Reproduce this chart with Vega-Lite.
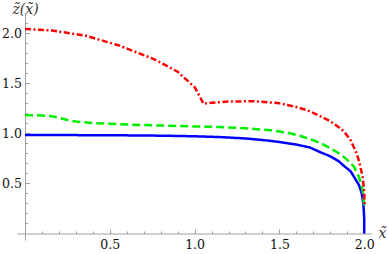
{
  "$schema": "https://vega.github.io/schema/vega-lite/v6.json",
  "width": 354,
  "height": 227,
  "autosize": "none",
  "padding": {"left": 17, "top": 13, "right": 17, "bottom": 14},
  "background": "white",
  "config": {"view": {"stroke": null}, "font": "DejaVu Serif"},
  "data": {"values": [
    {"s":"a","i":0,"x":0,"z":0.982},{"s":"a","i":1,"x":0.2,"z":0.982},{"s":"a","i":2,"x":0.4,"z":0.981},{"s":"a","i":3,"x":0.6,"z":0.979},{"s":"a","i":4,"x":0.8,"z":0.976},{"s":"a","i":5,"x":1.0,"z":0.97},{"s":"a","i":6,"x":1.15,"z":0.962},{"s":"a","i":7,"x":1.3,"z":0.948},{"s":"a","i":8,"x":1.4,"z":0.933},{"s":"a","i":9,"x":1.5,"z":0.913},{"s":"a","i":10,"x":1.6,"z":0.887},{"s":"a","i":11,"x":1.68,"z":0.858},{"s":"a","i":12,"x":1.74,"z":0.812},{"s":"a","i":13,"x":1.8,"z":0.77},{"s":"a","i":14,"x":1.85,"z":0.72},{"s":"a","i":15,"x":1.88,"z":0.675},{"s":"a","i":16,"x":1.92,"z":0.62},{"s":"a","i":17,"x":1.94,"z":0.565},{"s":"a","i":18,"x":1.97,"z":0.48},{"s":"a","i":19,"x":1.985,"z":0.4},{"s":"a","i":20,"x":1.995,"z":0.3},{"s":"a","i":21,"x":2.0,"z":0.15},{"s":"a","i":22,"x":2.0,"z":0},
    {"s":"b","i":0,"x":0,"z":1.18},{"s":"b","i":1,"x":0.1,"z":1.178},{"s":"b","i":2,"x":0.15,"z":1.172},{"s":"b","i":3,"x":0.2,"z":1.155},{"s":"b","i":4,"x":0.25,"z":1.133},{"s":"b","i":5,"x":0.3,"z":1.117},{"s":"b","i":6,"x":0.4,"z":1.102},{"s":"b","i":7,"x":0.56,"z":1.09},{"s":"b","i":8,"x":0.7,"z":1.082},{"s":"b","i":9,"x":0.85,"z":1.075},{"s":"b","i":10,"x":1.0,"z":1.068},{"s":"b","i":11,"x":1.15,"z":1.062},{"s":"b","i":12,"x":1.3,"z":1.05},{"s":"b","i":13,"x":1.45,"z":1.03},{"s":"b","i":14,"x":1.55,"z":1.005},{"s":"b","i":15,"x":1.62,"z":0.975},{"s":"b","i":16,"x":1.7,"z":0.93},{"s":"b","i":17,"x":1.75,"z":0.895},{"s":"b","i":18,"x":1.8,"z":0.85},{"s":"b","i":19,"x":1.86,"z":0.79},{"s":"b","i":20,"x":1.9,"z":0.735},{"s":"b","i":21,"x":1.94,"z":0.665},{"s":"b","i":22,"x":1.97,"z":0.56},{"s":"b","i":23,"x":1.99,"z":0.44},{"s":"b","i":24,"x":2.0,"z":0.28},
    {"s":"c","i":0,"x":0,"z":2.04},{"s":"c","i":1,"x":0.16,"z":2.025},{"s":"c","i":2,"x":0.36,"z":1.973},{"s":"c","i":3,"x":0.56,"z":1.873},{"s":"c","i":4,"x":0.76,"z":1.74},{"s":"c","i":5,"x":0.9,"z":1.614},{"s":"c","i":6,"x":1.0,"z":1.46},{"s":"c","i":7,"x":1.03,"z":1.37},{"s":"c","i":8,"x":1.052,"z":1.295},{"s":"c","i":9,"x":1.1,"z":1.305},{"s":"c","i":10,"x":1.2,"z":1.316},{"s":"c","i":11,"x":1.35,"z":1.32},{"s":"c","i":12,"x":1.5,"z":1.3},{"s":"c","i":13,"x":1.6,"z":1.262},{"s":"c","i":14,"x":1.66,"z":1.232},{"s":"c","i":15,"x":1.73,"z":1.18},{"s":"c","i":16,"x":1.8,"z":1.12},{"s":"c","i":17,"x":1.85,"z":1.06},{"s":"c","i":18,"x":1.88,"z":1.02},{"s":"c","i":19,"x":1.92,"z":0.93},{"s":"c","i":20,"x":1.95,"z":0.82},{"s":"c","i":21,"x":1.97,"z":0.72},{"s":"c","i":22,"x":1.99,"z":0.57},{"s":"c","i":23,"x":2.0,"z":0.42},{"s":"c","i":24,"x":2.003,"z":0.27}
  ]},
  "mark": {"type": "line", "strokeWidth": 2.5, "clip": false},
  "encoding": {
    "x": {
      "field": "x", "type": "quantitative",
      "scale": {"domain": [-0.047, 2.04], "nice": false, "zero": false},
      "axis": {
        "offset": -6.5,
        "values": [0.1,0.2,0.3,0.4,0.5,0.6,0.7,0.8,0.9,1.0,1.1,1.2,1.3,1.4,1.5,1.6,1.7,1.8,1.9,2.0],
        "labelExpr": "abs(datum.value*2-round(datum.value*2))<0.001 ? format(datum.value,'.1f') : ''",
        "labelOverlap": false, "labelBound": false, "labelFlush": false,
        "labelFont": "DejaVu Serif", "labelFontSize": 12.5, "labelColor": "#111",
        "labelPadding": 9,
        "domainColor": "#a0a0a0", "domainWidth": 1,
        "tickColor": "#a0a0a0", "tickWidth": 1,
        "tickSize": {"condition": {"test": "abs(datum.value*2-round(datum.value*2))<0.001", "value": -4.5}, "value": -2.5},
        "grid": false,
        "title": "x̃",
        "titleFont": "DejaVu Serif", "titleFontStyle": "italic", "titleFontWeight": "normal", "titleFontSize": 14, "titleColor": "#333",
        "titleAngle": 0, "titleAlign": "left", "titleBaseline": "alphabetic",
        "titleX": 361, "titleY": 4
      }
    },
    "y": {
      "field": "z", "type": "quantitative",
      "scale": {"domain": [-0.065, 2.2], "nice": false, "zero": false},
      "axis": {
        "offset": -8,
        "values": [0.1,0.2,0.3,0.4,0.5,0.6,0.7,0.8,0.9,1.0,1.1,1.2,1.3,1.4,1.5,1.6,1.7,1.8,1.9,2.0,2.1],
        "labelExpr": "abs(datum.value*2-round(datum.value*2))<0.001 ? format(datum.value,'.1f') : ''",
        "labelOverlap": false, "labelBound": false, "labelFlush": false,
        "labelFont": "DejaVu Serif", "labelFontSize": 12.5, "labelColor": "#111",
        "labelPadding": 8,
        "domainColor": "#a0a0a0", "domainWidth": 1,
        "tickColor": "#a0a0a0", "tickWidth": 1,
        "tickSize": {"condition": {"test": "abs(datum.value*2-round(datum.value*2))<0.001", "value": -4.5}, "value": -2.5},
        "grid": false,
        "title": "z̃(x̃)",
        "titleFont": "DejaVu Serif", "titleFontStyle": "italic", "titleFontWeight": "normal", "titleFontSize": 14, "titleColor": "#333",
        "titleAngle": 0, "titleAlign": "center", "titleBaseline": "alphabetic",
        "titleX": 0, "titleY": 0
      }
    },
    "detail": {"field": "s"},
    "order": {"field": "i", "type": "quantitative"},
    "color": {"field": "s", "type": "nominal", "scale": {"domain": ["a","b","c"], "range": ["#0000ff","#00ee00","#ff0000"]}, "legend": null},
    "strokeDash": {"field": "s", "type": "nominal", "scale": {"domain": ["a","b","c"], "range": [[1,0],[8,4],[6,2.5,2,2.5]]}, "legend": null}
  }
}
